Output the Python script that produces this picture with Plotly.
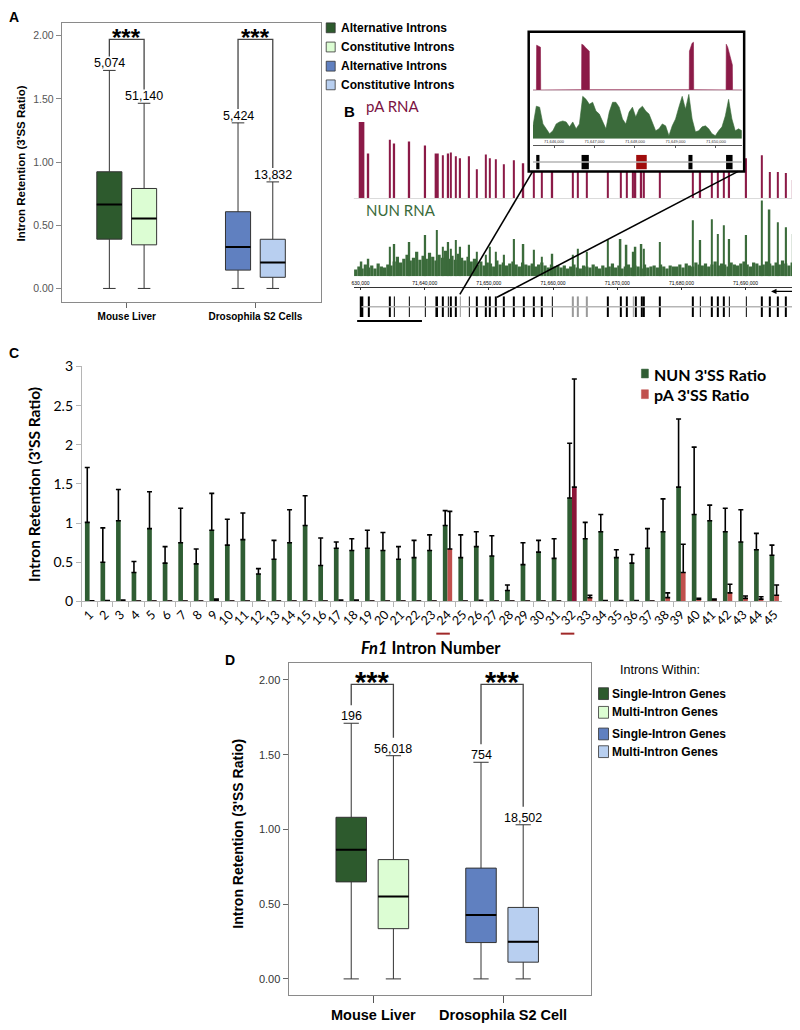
import plotly.graph_objects as go
import numpy as np

W, H = 800, 1030
OFF = 8  # browser body margin
def fx(p): return (p - OFF) / W
def fy(p): return 1 - (p - OFF) / H

ARIAL = "Liberation Sans, Arial, sans-serif"
CAL = "Lato, Open Sans, sans-serif"

# ---------------- Panel A data ----------------
a_cats = ["Mouse Liver", "Drosophila S2 Cells"]
a_series = ["Alternative Introns", "Constitutive Introns", "Alternative Introns", "Constitutive Introns"]
a_min = [0.0, 0.0, 0.0, 0.0]
a_q1 = [0.390, 0.345, 0.145, 0.088]
a_median = [0.664, 0.553, 0.327, 0.205]
a_q3 = [0.923, 0.791, 0.607, 0.389]
a_max = [1.725, 1.465, 1.310, 0.843]
a_n = ["5,074", "51,140", "5,424", "13,832"]
a_yticks = [0.0, 0.5, 1.0, 1.5, 2.0]

# ---------------- Panel D data ----------------
d_cats = ["Mouse Liver", "Drosophila S2 Cell"]
d_legend_title = "Introns Within:"
d_series = ["Single-Intron Genes", "Multi-Intron Genes", "Single-Intron Genes", "Multi-Intron Genes"]
d_min = [0.0, 0.0, 0.0, 0.0]
d_q1 = [0.649, 0.336, 0.243, 0.112]
d_median = [0.864, 0.551, 0.428, 0.248]
d_q3 = [1.081, 0.798, 0.741, 0.478]
d_max = [1.710, 1.493, 1.449, 1.031]
d_n = ["196", "56,018", "754", "18,502"]
d_yticks = [0.0, 0.5, 1.0, 1.5, 2.0]

# ---------------- Panel C data ----------------
c_intron = [str(i) for i in range(1, 46)]
c_nun = [1.01, 0.50, 1.03, 0.37, 0.93, 0.49, 0.75, 0.48, 0.91, 0.72,
         0.79, 0.35, 0.54, 0.75, 0.97, 0.46, 0.68, 0.65, 0.68, 0.65,
         0.54, 0.56, 0.65, 0.97, 0.56, 0.70, 0.58, 0.14, 0.47, 0.63,
         0.55, 1.32, 0.80, 0.89, 0.56, 0.49, 0.68, 0.89, 1.46, 1.11,
         1.03, 0.89, 0.76, 0.66, 0.59]
c_nun_top = [1.71, 0.94, 1.43, 0.51, 1.40, 0.70, 1.19, 0.67, 1.38, 1.05,
             1.13, 0.42, 0.78, 1.17, 1.35, 0.81, 0.76, 0.80, 0.91, 0.88,
             0.70, 0.78, 0.85, 1.16, 0.85, 0.89, 0.84, 0.21, 0.75, 0.78,
             0.80, 2.02, 1.01, 1.11, 0.66, 0.60, 0.93, 1.31, 2.33, 1.97,
             1.23, 1.19, 1.17, 0.87, 0.72]
c_pa = [0.005, 0.008, 0.012, 0.004, 0.004, 0.004, 0.004, 0.004, 0.015, 0.004,
        0.004, 0.004, 0.004, 0.004, 0.004, 0.004, 0.008, 0.008, 0.004, 0.004,
        0.004, 0.004, 0.004, 0.67, 0.004, 0.008, 0.004, 0.004, 0.004, 0.004,
        0.004, 1.46, 0.05, 0.008, 0.008, 0.008, 0.004, 0.05, 0.37, 0.03,
        0.02, 0.11, 0.04, 0.03, 0.08]
c_pa_top = [0.008, 0.012, 0.02, 0.006, 0.006, 0.006, 0.006, 0.006, 0.03, 0.006,
            0.006, 0.006, 0.006, 0.006, 0.006, 0.006, 0.02, 0.02, 0.006, 0.006,
            0.006, 0.006, 0.006, 1.15, 0.006, 0.015, 0.006, 0.006, 0.006, 0.006,
            0.006, 2.84, 0.08, 0.012, 0.012, 0.012, 0.006, 0.11, 0.73, 0.04,
            0.03, 0.22, 0.07, 0.06, 0.21]
c_highlight = ["24", "32"]
c_series = ["NUN 3'SS Ratio", "pA 3'SS Ratio"]

# ---------------- Panel B data (Fn1 locus, kb) ----------------
exon_kb = [71630.16, 71631.24, 71634.61, 71635.28, 71637.62, 71640.10, 71641.87, 71642.80,
           71643.68, 71644.09, 71644.87, 71645.54, 71646.94, 71648.13, 71649.53, 71650.16,
           71651.09, 71652.38, 71653.94, 71655.39, 71657.05, 71658.24, 71659.90, 71663.11,
           71663.89, 71665.23, 71668.55, 71670.52, 71671.45, 71672.49, 71672.85, 71673.78,
           71674.15, 71676.63, 71681.81, 71682.95, 71684.77, 71685.70, 71686.58, 71687.46,
           71690.10, 71692.54, 71693.73, 71695.03, 71696.32, 71697.46]
exon_len_kb = [0.55, 0.12, 0.12, 0.12, 0.12, 0.12, 0.40, 0.12, 0.12, 0.12, 0.12, 0.12, 0.12, 0.12,
               0.12, 0.12, 0.12, 0.12, 0.12, 0.12, 0.12, 0.12, 0.12, 0.12, 0.12, 0.12, 0.12, 0.12,
               0.12, 0.12, 0.12, 0.12, 0.12, 0.12, 0.12, 0.12, 0.12, 0.12, 0.12, 0.12, 0.12, 0.12,
               0.12, 0.12, 0.12, 0.12]
alt_exons = [12, 24, 25, 26, 30]          # exon numbers drawn in grey
pa_peak = [78, 46, 60, 56, 58, 54, 46, 44, 46, 47, 43, 41, 43, 30, 45, 41, 40, 35, 39, 36,
           45, 40, 42, 35, 38, 30, 40, 35, 32, 30, 38, 42, 36, 30, 45, 40, 36, 38, 40, 42,
           41, 44, 27, 27, 26, 19]
nun_peak = [15, 18, 30, 33, 35, 42, 47, 30, 35, 28, 37, 30, 32, 25, 22, 30, 25, 22, 38, 33,
            27, 20, 23, 22, 28, 25, 37, 38, 32, 25, 30, 33, 28, 35, 57, 37, 58, 43, 52, 38,
            42, 77, 68, 55, 50, 43]
nun_bg_start = 71629.0
nun_bg = [7, 10, 8, 12, 9, 11, 8, 13, 10, 9, 12, 11,
          15, 20, 14, 18, 22, 16, 19, 25, 17, 21, 18, 24, 20, 16, 22, 19, 26, 18, 21, 17, 23, 19, 16, 20, 15, 18,
          12, 15, 11, 14, 13, 10, 16, 12, 14, 11, 13, 15, 12, 10, 14, 12, 11, 13, 10, 12, 14, 11, 9, 12, 10, 11,
          9, 11, 8, 10, 12, 9, 8, 11, 10, 9, 12, 10, 8, 11, 9, 10, 13, 9, 11, 8, 10, 12, 9, 11, 10, 8, 12, 9,
          10, 11, 9, 12, 10, 8, 11, 10,
          10, 12, 9, 13, 11, 10, 14, 12, 11, 13, 10, 12, 15, 11, 13, 12, 10, 14, 12, 11, 13, 15, 12, 10, 14,
          13, 11, 12, 15, 13, 11, 14, 12, 16, 13, 11, 14, 12]
ruler_kb = [71630, 71640, 71650, 71660, 71670, 71680, 71690]
ruler_txt = ["630,000", "71,640,000", "71,650,000", "71,660,000", "71,670,000", "71,680,000", "71,690,000"]

# inset (zoom on exons around EIIIB)
inset_range = [71645.48, 71650.64]
inset_exon_kb = [71645.60, 71646.77, 71648.16, 71649.37, 71650.33]
inset_exon_len = [0.08, 0.18, 0.26, 0.10, 0.16]
inset_alt_exon = 3
inset_pa_kb = [71645.48, 71645.565, 71645.57, 71645.62, 71645.665, 71645.67,
               71646.68, 71646.685, 71646.73, 71646.77, 71646.81, 71646.87, 71646.875,
               71649.34, 71649.345, 71649.37, 71649.41, 71649.445, 71649.45,
               71650.25, 71650.255, 71650.29, 71650.33, 71650.37, 71650.405, 71650.41, 71650.64]
inset_pa = [0.5, 0.5, 46, 45, 44, 0.5,
            0.8, 47, 46, 44, 42, 40, 0.8,
            0.8, 40, 44, 48, 49, 0.8,
            0.6, 47, 44, 38, 32, 26, 0.6, 0.5]
inset_nun = [13, 33, 32, 15, 10, 5, 8, 15, 17, 18, 17, 12, 17, 10, 15, 43, 40, 35, 37, 28,
             25, 17, 10, 27, 37, 37, 32, 20, 15, 27, 32, 22, 30, 33, 28, 25, 17, 8, 10, 15,
             13, 3, 13, 20, 32, 43, 30, 45, 20, 7, 8, 12, 13, 10, 5, 3, 8, 12, 23, 40,
             20, 8, 10, 8]
inset_ruler_kb = [71646, 71647, 71648, 71649, 71650]
inset_ruler_txt = ["71,646,000", "71,647,000", "71,648,000", "71,649,000", "71,650,000"]

# ---------------- styles / layout constants ----------------
BOX_COLORS = ["#2d5a2d", "#dcfdd3", "#6080c0", "#b8cff0"]
GREEN_C = "#2f5d33"
RED_C = "#c0504d"
MAROON_C = "#8b1538"
PA_COL = "#8b1a47"
NUN_COL = "#3b6b3b"

fig = go.Figure()
annotations = []
shapes = []

def pann(text, x, y, size, family=ARIAL, color="black", xanchor="center", yanchor="middle", angle=0):
    annotations.append(dict(text=text, x=fx(x), y=fy(y), xref="paper", yref="paper", showarrow=False,
                            font=dict(size=size, family=family, color=color), xanchor=xanchor,
                            yanchor=yanchor, textangle=angle))

def prect(x0, y0, x1, y1, fill, line="#333333", lw=0.8):
    shapes.append(dict(type="rect", xref="paper", yref="paper", x0=fx(x0), x1=fx(x1), y0=fy(y0), y1=fy(y1),
                       fillcolor=fill, line=dict(color=line, width=lw), layer="above"))

def pline(x0, y0, x1, y1, color="black", w=1.5):
    shapes.append(dict(type="line", xref="paper", yref="paper", x0=fx(x0), x1=fx(x1), y0=fy(y0), y1=fy(y1),
                       line=dict(color=color, width=w), layer="above"))

# ---------------- box panels (A and D) ----------------
def box_panel(xa, ya, xref, yref, offsets, bw, q1, med, q3, lo, hi, counts, top, gap,
              star_size, count_size):
    pos = [1 + offsets[0], 1 + offsets[1], 3 + offsets[0], 3 + offsets[1]]
    for i in range(4):
        fig.add_trace(go.Box(x=[pos[i]], q1=[q1[i]], median=[med[i]], q3=[q3[i]],
                             lowerfence=[lo[i]], upperfence=[hi[i]], width=bw, whiskerwidth=0.5,
                             fillcolor=BOX_COLORS[i], line=dict(color="#333333", width=1),
                             boxpoints=False, xaxis=xa, yaxis=ya, showlegend=False, hoverinfo="skip"))
        fig.add_trace(go.Scatter(x=[pos[i] - bw / 2, pos[i] + bw / 2], y=[med[i], med[i]], mode="lines",
                                 line=dict(color="black", width=2), xaxis=xa, yaxis=ya,
                                 showlegend=False, hoverinfo="skip"))
        annotations.append(dict(text=counts[i], x=pos[i], y=hi[i], xref=xref, yref=yref, showarrow=False,
                                yanchor="bottom", yshift=-2,
                                font=dict(size=count_size, family=ARIAL, color="black")))
    for g in range(2):
        pa, pb = pos[2 * g], pos[2 * g + 1]
        fig.add_trace(go.Scatter(x=[pa, pa, pb, pb], y=[hi[2 * g] + gap, top, top, hi[2 * g + 1] + gap],
                                 mode="lines", line=dict(color="#444444", width=1.3), xaxis=xa, yaxis=ya,
                                 showlegend=False, hoverinfo="skip"))
        annotations.append(dict(text="<b>***</b>", x=(pa + pb) / 2, y=top, xref=xref, yref=yref,
                                showarrow=False, yanchor="middle", yshift=2,
                                font=dict(size=star_size, family=ARIAL, color="black")))

box_panel("x", "y", "x", "y", [-0.27, 0.27], 0.39, a_q1, a_median, a_q3, a_min, a_max, a_n,
          1.97, 0.11, 24, 12.5)
box_panel("x5", "y9", "x5", "y9", [-0.34, 0.31], 0.47, d_q1, d_median, d_q3, d_min, d_max, d_n,
          1.97, 0.12, 29, 12.5)

# legends A
for i, (lab, yy) in enumerate(zip(a_series, [19, 38.5, 58, 77])):
    prect(325, yy - 5, 334, yy + 5, BOX_COLORS[i])
    pann("<b>%s</b>" % lab, 338, yy, 12, xanchor="left")
# legend D
pann(d_legend_title, 660, 672, 12.5)
for i, (lab, yy) in enumerate(zip(d_series, [696, 715, 737, 755])):
    prect(598, yy - 6, 608, yy + 6, BOX_COLORS[i])
    pann("<b>%s</b>" % lab, 610, yy, 12, xanchor="left")

# ---------------- Panel C ----------------
fig.add_trace(go.Bar(x=c_intron, y=c_nun, width=0.3, offset=-0.3, marker=dict(color=GREEN_C, line=dict(width=0)),
                     error_y=dict(type="data", symmetric=False,
                                  array=[t - v for t, v in zip(c_nun_top, c_nun)],
                                  arrayminus=[0] * len(c_nun), color="black", thickness=1.6, width=2.5),
                     xaxis="x4", yaxis="y8", showlegend=False, hoverinfo="skip"))
pa_colors = [MAROON_C if c == "32" else RED_C for c in c_intron]
fig.add_trace(go.Bar(x=c_intron, y=c_pa, width=0.3, offset=0.0, marker=dict(color=pa_colors, line=dict(width=0)),
                     error_y=dict(type="data", symmetric=False,
                                  array=[t - v for t, v in zip(c_pa_top, c_pa)],
                                  arrayminus=[0] * len(c_pa), color="black", thickness=1.6, width=2.5),
                     xaxis="x4", yaxis="y8", showlegend=False, hoverinfo="skip"))
for h in c_highlight:
    idx = c_intron.index(h)
    shapes.append(dict(type="line", xref="x4", yref="paper", x0=idx - 0.72, x1=idx + 0.15,
                       y0=fy(635), y1=fy(635), line=dict(color="#a02828", width=2)))
# legend C
prect(641, 366, 648, 375, GREEN_C, line=GREEN_C, lw=0.5)
pann("<b>%s</b>" % c_series[0], 652, 371, 16, family=CAL, xanchor="left")
prect(641, 387, 648, 396, RED_C, line=RED_C, lw=0.5)
pann("<b>%s</b>" % c_series[1], 652, 392, 16, family=CAL, xanchor="left")
pann("<b><i>Fn1</i> Intron Number</b>", 430, 650, 16.5, family=CAL)
pann("<b>Intron Retention (3'SS Ratio)</b>", 32, 483, 15.5, family=CAL, angle=-90)

# ---------------- Panel B ----------------
B_X0, B_X1 = 352.7, 795.0
B_K0, B_K1 = 71628.96, 71697.70
def kb2px(k): return B_X0 + (k - B_K0) / (B_K1 - B_K0) * (B_X1 - B_X0)
INSET = (528, 23, 744, 165)
PA_BASE = 192.7
clip_h = PA_BASE - INSET[3] - 0.5
pa_vis = [min(h, clip_h) if INSET[0] <= kb2px(k) <= INSET[2] else h for k, h in zip(exon_kb, pa_peak)]

fig.add_trace(go.Bar(x=exon_kb, y=pa_vis, width=[max(w * 1.6, 0.22) for w in exon_len_kb],
                     marker=dict(color=PA_COL, line=dict(width=0)), xaxis="x2", yaxis="y2",
                     showlegend=False, hoverinfo="skip"))
bg_x = [nun_bg_start + 0.5 * i + 0.25 for i in range(len(nun_bg))]
fig.add_trace(go.Bar(x=bg_x, y=nun_bg, width=0.5, marker=dict(color=NUN_COL, line=dict(width=0)),
                     xaxis="x2", yaxis="y3", showlegend=False, hoverinfo="skip"))
fig.add_trace(go.Bar(x=exon_kb, y=nun_peak, width=0.24, marker=dict(color=NUN_COL, line=dict(width=0)),
                     xaxis="x2", yaxis="y3", showlegend=False, hoverinfo="skip"))
# gene model
fig.add_trace(go.Scatter(x=[exon_kb[0], exon_kb[-1]], y=[0, 0], mode="lines",
                         line=dict(color="#b5b5b5", width=1.5), xaxis="x2", yaxis="y4",
                         showlegend=False, hoverinfo="skip"))
exon_cols = ["#9a9a9a" if (i + 1) in alt_exons else "black" for i in range(len(exon_kb))]
fig.add_trace(go.Bar(x=exon_kb, y=[2] * len(exon_kb), base=-1, width=exon_len_kb,
                     marker=dict(color=exon_cols, line=dict(width=0)), xaxis="x2", yaxis="y4",
                     showlegend=False, hoverinfo="skip"))
shapes.append(dict(type="line", xref="x2 domain", yref="y2", x0=0, x1=1, y0=0, y1=0,
                   line=dict(color="#c8c8c8", width=1)))

# inset traces
fig.add_trace(go.Scatter(x=inset_pa_kb, y=inset_pa, mode="lines", fill="tozeroy", fillcolor=PA_COL,
                         line=dict(color=PA_COL, width=0.6), xaxis="x3", yaxis="y5",
                         showlegend=False, hoverinfo="skip"))
in_x = list(np.linspace(inset_range[0], inset_range[1], len(inset_nun)))
fig.add_trace(go.Scatter(x=in_x, y=inset_nun, mode="lines", fill="tozeroy", fillcolor=NUN_COL,
                         line=dict(color=NUN_COL, width=0.6), xaxis="x3", yaxis="y6",
                         showlegend=False, hoverinfo="skip"))
fig.add_trace(go.Scatter(x=inset_range, y=[0, 0], mode="lines", line=dict(color="#b5b5b5", width=1.5),
                         xaxis="x3", yaxis="y7", showlegend=False, hoverinfo="skip"))
in_cols = ["#a00c0c" if (i + 1) == inset_alt_exon else "black" for i in range(len(inset_exon_kb))]
fig.add_trace(go.Bar(x=inset_exon_kb, y=[2] * len(inset_exon_kb), base=-1, width=inset_exon_len,
                     marker=dict(color=in_cols, line=dict(width=0)), xaxis="x3", yaxis="y7",
                     showlegend=False, hoverinfo="skip"))
shapes.append(dict(type="line", xref="x3 domain", yref="y5", x0=0, x1=1, y0=0, y1=0,
                   line=dict(color="#c8c8c8", width=1)))

# inset frame & connectors
shapes.append(dict(type="rect", xref="paper", yref="paper", x0=fx(INSET[0]), x1=fx(INSET[2]),
                   y0=fy(INSET[3]), y1=fy(INSET[1]), line=dict(color="black", width=2.5), layer="above"))
pline(INSET[0] + 4, INSET[3], kb2px(inset_range[0]), 290, w=1.6)
pline(INSET[2] - 6, INSET[3], kb2px(inset_range[1]) + 4, 293, w=1.6)
# scale bar and strand arrow
pline(356, 317, 421, 317, w=2)
pline(794, 287, 794, 299, w=1.2)
annotations.append(dict(x=fx(771), y=fy(287), xref="paper", yref="paper", ax=23, ay=0, text="",
                        showarrow=True, arrowhead=2, arrowsize=0.9, arrowwidth=1.2, arrowcolor="black"))

pann("pA RNA", 363, 98, 15, family=CAL, color="#7a1242", xanchor="left")
pann("NUN RNA", 363, 204, 15, family=CAL, color="#3b6b3b", xanchor="left")

# panel letters
pann("<b>A</b>", 12, 8, 14)
pann("<b>B</b>", 348, 104, 15)
pann("<b>C</b>", 12, 350, 14)
pann("<b>D</b>", 229, 662, 14)

# Y titles for A and D
pann("<b>Intron Retention (3'SS Ratio)</b>", 19, 157, 11.5, angle=-90)
pann("<b>Intron Retention (3'SS Ratio)</b>", 237, 838, 14, angle=-90)

# ---------------- axes ----------------
hid = dict(visible=False, showgrid=False, zeroline=False, fixedrange=True)
def fmt2(v): return "%.2f" % v

layout = dict(
    width=W, height=H, margin=dict(l=0, r=0, t=0, b=0),
    plot_bgcolor="white", paper_bgcolor="white", barmode="overlay", showlegend=False,
    font=dict(family=ARIAL, color="black"),
    # A
    xaxis=dict(domain=[fx(60), fx(320)], range=[-0.008, 4.023], anchor="y", tickvals=[1, 3],
               ticktext=["<b>%s</b>" % c for c in a_cats], ticks="outside", ticklen=5, tickcolor="#666",
               showline=True, mirror=True, linecolor="#8a8a8a", linewidth=1.2, showgrid=False,
               zeroline=False, tickfont=dict(size=10, family=ARIAL, color="black")),
    yaxis=dict(domain=[fy(298), fy(14)], range=[-0.109, 2.101], anchor="x", tickvals=a_yticks,
               ticktext=[fmt2(v) for v in a_yticks], ticks="outside", ticklen=5, tickcolor="#888",
               showline=True, mirror=True, linecolor="#8a8a8a", linewidth=1.2, showgrid=False,
               zeroline=False, tickfont=dict(size=10.5, family=ARIAL, color="#555")),
    # B main
    xaxis2=dict(domain=[fx(B_X0), fx(B_X1)], range=[B_K0, B_K1], anchor="free", position=fy(283),
                side="top", showline=True, linecolor="#333", linewidth=1, ticks="inside", ticklen=2,
                tickcolor="#333", tickvals=ruler_kb, ticktext=ruler_txt, showgrid=False, zeroline=False,
                tickfont=dict(size=5, family=ARIAL, color="black")),
    yaxis2=dict(domain=[fy(PA_BASE), fy(112)], range=[0, 80.7], anchor="x2", **hid),
    yaxis3=dict(domain=[fy(271.7), fy(192)], range=[0, 79.7], anchor="x2", **hid),
    yaxis4=dict(domain=[fy(313), fy(292)], range=[-1, 1], anchor="x2", **hid),
    # inset
    xaxis3=dict(domain=[fx(532.3), fx(741.7)], range=inset_range, anchor="free", position=fy(138),
                side="top", showline=True, linecolor="#555", linewidth=0.8, ticks="inside", ticklen=2,
                tickcolor="#555", tickvals=inset_ruler_kb, ticktext=inset_ruler_txt, showgrid=False,
                zeroline=False, tickfont=dict(size=4, family=ARIAL, color="#333")),
    yaxis5=dict(domain=[fy(82.7), fy(30)], range=[0, 52.7], anchor="x3", **hid),
    yaxis6=dict(domain=[fy(131.7), fy(85)], range=[0, 46.7], anchor="x3", **hid),
    yaxis7=dict(domain=[fy(163), fy(148)], range=[-1, 1], anchor="x3", **hid),
    # C
    xaxis4=dict(domain=[fx(80), fx(782)], type="category", categoryorder="array", categoryarray=c_intron,
                range=[-0.5, 44.5], anchor="y8", tickson="boundaries", ticks="outside", ticklen=5,
                tickcolor="#b5b5b5", showline=True, linecolor="#b5b5b5", linewidth=1, tickangle=-45,
                showgrid=False, zeroline=False, tickfont=dict(size=12.5, family=CAL, color="black")),
    yaxis8=dict(domain=[fy(602.3), fy(363.3)], range=[0, 3], anchor="x4", dtick=0.5, ticks="outside",
                ticklen=5, tickcolor="#b5b5b5", showline=True, linecolor="#b5b5b5", linewidth=1,
                showgrid=False, zeroline=False, tickfont=dict(size=14, family=CAL, color="black")),
    # D
    xaxis5=dict(domain=[fx(287.3), fx(590.4)], range=[-0.305, 4.354], anchor="y9", tickvals=[1, 3],
                ticktext=["<b>%s</b>" % c for c in d_cats], ticks="outside", ticklen=7, tickcolor="#555",
                showline=True, mirror=True, linecolor="#8a8a8a", linewidth=1.2, showgrid=False,
                zeroline=False, tickfont=dict(size=14.5, family=ARIAL, color="black")),
    yaxis9=dict(domain=[fy(1002), fy(665)], range=[-0.105, 2.112], anchor="x5", tickvals=d_yticks,
                ticktext=[fmt2(v) for v in d_yticks], ticks="outside", ticklen=5, tickcolor="#666",
                showline=True, mirror=True, linecolor="#8a8a8a", linewidth=1.2, showgrid=False,
                zeroline=False, tickfont=dict(size=11, family=ARIAL, color="#333")),
    annotations=annotations,
    shapes=shapes,
)
fig.update_layout(**layout)
fig.write_html("out.html")
